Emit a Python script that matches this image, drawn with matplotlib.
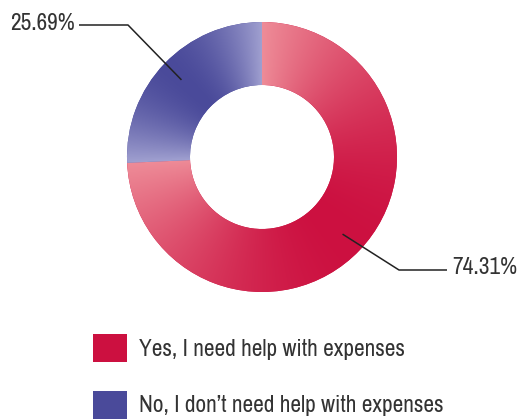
import numpy as np
import matplotlib
matplotlib.use('Agg')
import matplotlib.pyplot as plt
from matplotlib import font_manager
from matplotlib.colors import to_rgb

labels = ['Yes, I need help with expenses', "No, I don\u2019t need help with expenses"]
values = [74.31, 25.69]
pct_labels = ['74.31%', '25.69%']
colors = ['#CC1040', '#4A4A9A']
light_colors = ['#EE8C98', '#A0A0D0']

# prefer a condensed face if one is installed
cands = sorted({f.name for f in font_manager.fontManager.ttflist
                if ('condensed' in f.name.lower() or 'narrow' in f.name.lower())})
family = cands[0] if cands else 'Roboto'
plt.rcParams['font.family'] = [family, 'DejaVu Sans']

W, H = 517, 419
fig = plt.figure(figsize=(W / 100, H / 100), dpi=100)
ax = fig.add_axes([0, 0, 1, 1])

# size the font so the first legend label is as wide as in the reference (~266 px)
probe = fig.text(0, 0, labels[0], fontsize=18)
fig.canvas.draw()
wpx = probe.get_window_extent().width
probe.remove()
fs = 18 * 266 / wpx
px = fs * 100 / 72

cx, cy = 262, H - 157
R = 135
ring = 63
wedges, _ = ax.pie(values, colors=colors, startangle=90, counterclock=False,
                   center=(cx, cy), radius=R, frame=True,
                   wedgeprops=dict(width=ring, linewidth=0))

# angular gradient inside each slice (light at the edges, full colour in the middle)
n = 700
xs = np.linspace(cx - R, cx + R, n)
ys = np.linspace(cy - R, cy + R, n)
X, Y = np.meshgrid(xs, ys)
ang = np.degrees(np.arctan2(Y - cy, X - cx))
for w, c0, c1 in zip(wedges, colors, light_colors):
    th1, th2 = w.theta1, w.theta2
    a = (ang - th1) % 360
    t = np.clip(a / (th2 - th1), 0, 1)
    f = np.abs(2 * t - 1) ** 1.8
    rgb = (1 - f)[..., None] * np.array(to_rgb(c0)) + f[..., None] * np.array(to_rgb(c1))
    im = ax.imshow(rgb, extent=(cx - R, cx + R, cy - R, cy + R), origin='lower',
                   interpolation='bilinear', zorder=w.get_zorder() + 0.1)
    im.set_clip_path(w)

# leader lines and percentage labels
label_pos = [((399, H - 270), (447, H - 270), (452, H - 268), 'left'),
             ((128, H - 25), (79, H - 25), (75, H - 24), 'right')]
for w, txt, (elbow, end, tpos, ha) in zip(wedges, pct_labels, label_pos):
    mid = np.radians((w.theta1 + w.theta2) / 2)
    r0 = R - ring / 2 + 8
    sx, sy = cx + r0 * np.cos(mid), cy + r0 * np.sin(mid)
    ax.plot([sx, elbow[0], end[0]], [sy, elbow[1], end[1]], color='#222222', lw=1.1,
            solid_capstyle='butt', zorder=5)
    ax.text(tpos[0], tpos[1], txt, ha=ha, va='center', fontsize=fs, color='#333333')

hl = 34 / px
leg = ax.legend(wedges, labels, loc='upper left', bbox_to_anchor=(93 / W, 1 - 334 / H),
                frameon=False, fontsize=fs, borderpad=0, borderaxespad=0,
                handlelength=hl, handleheight=hl, handletextpad=12 / px,
                labelspacing=29 / px)
for t in leg.get_texts():
    t.set_color('#333333')

ax.set_xlim(0, W)
ax.set_ylim(0, H)
ax.set_aspect('auto')
ax.axis('off')
fig.savefig('out.png', dpi=100)
